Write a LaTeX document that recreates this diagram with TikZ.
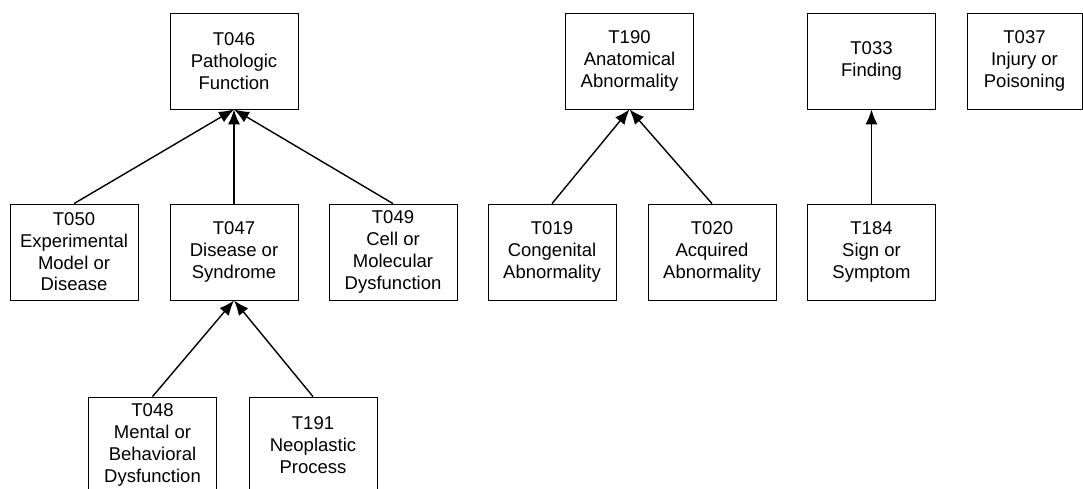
\documentclass[tikz,border=0pt]{standalone}
\usepackage{fontspec}
\setmainfont{Liberation Sans}
\usepackage{tikz}
\usetikzlibrary{arrows.meta}
\tikzset{
    stype/.style={draw, line width=0.8pt, minimum width=128pt, minimum height=96pt,
        align=center, inner sep=0pt, font=\fontsize{18.5}{21.7}\selectfont},
    isa/.style={line width=1.4pt, -{Latex[length=15pt,width=12pt]}}
}

\begin{document}
\begin{tikzpicture}[x=1pt,y=-1pt]
    \useasboundingbox (0,0) rectangle (1083,488);
    \clip (0,0) rectangle (1083,488);
    % pathologic function branch
    \node[stype] (t046) at (234,61) {T046\\Pathologic\\Function};
    \node[stype] (t050) at (74,252) {T050\\Experimental\\Model or\\Disease};
    \node[stype] (t047) at (234,252) {T047\\Disease or\\Syndrome};
    \node[stype] (t049) at (393,252) {T049\\Cell or\\Molecular\\Dysfunction};
    \node[stype] (t048) at (152.5,445) {T048\\Mental or\\Behavioral\\Dysfunction};
    \node[stype] (t191) at (313,445) {T191\\Neoplastic\\Process};
    % anatomical abnormality branch
    \node[stype] (t190) at (629.5,61) {T190\\Anatomical\\Abnormality};
    \node[stype] (t019) at (552,252) {T019\\Congenital\\Abnormality};
    \node[stype] (t020) at (712,252) {T020\\Acquired\\Abnormality};
    % findings
    \node[stype] (t033) at (871.5,61) {T033\\Finding};
    \node[stype] (t184) at (871.5,252) {T184\\Sign or\\Symptom};
    \node[stype, minimum width=115pt] (t037) at (1024.5,61) {T037\\Injury or\\Poisoning};
    % is-a links
    \draw[isa] (t050.north) -- (t046.south);
    \draw[isa] (t047.north) -- (t046.south);
    \draw[isa] (t049.north) -- (t046.south);
    \draw[isa] (t048.north) -- (t047.south);
    \draw[isa] (t191.north) -- (t047.south);
    \draw[isa] (t019.north) -- (t190.south);
    \draw[isa] (t020.north) -- (t190.south);
    \draw[isa] (t184.north) -- (t033.south);
\end{tikzpicture}
\end{document}
